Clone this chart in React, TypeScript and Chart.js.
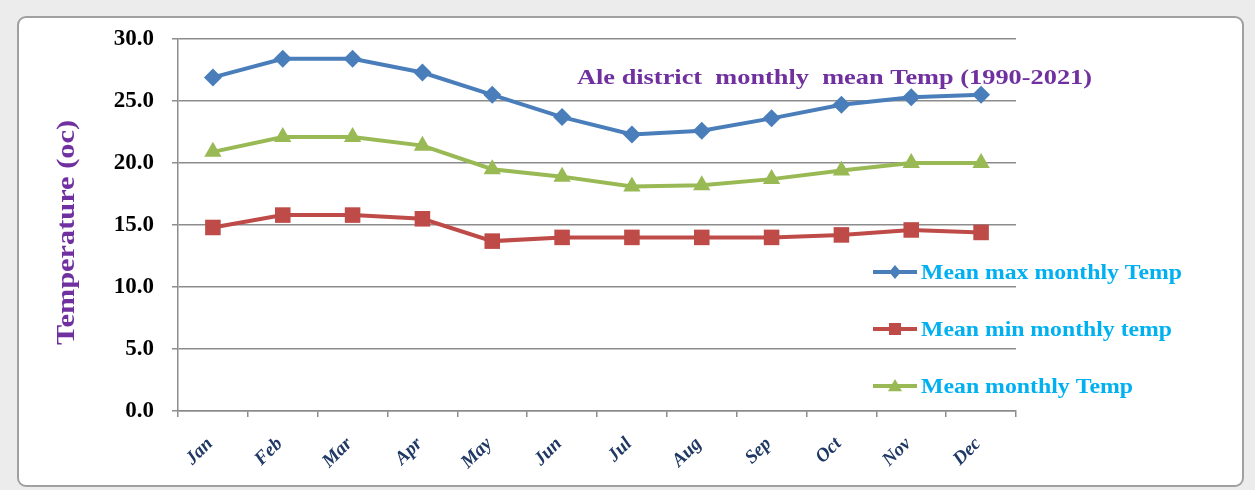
import React, { useEffect, useRef } from "react";
import { Chart, registerables } from "chart.js";

Chart.register(...registerables);

const months = ["Jan", "Feb", "Mar", "Apr", "May", "Jun", "Jul", "Aug", "Sep", "Oct", "Nov", "Dec"];
const maxTemp = [26.9, 28.4, 28.4, 27.3, 25.5, 23.7, 22.3, 22.6, 23.6, 24.7, 25.3, 25.5];
const minTemp = [14.8, 15.8, 15.8, 15.5, 13.7, 14.0, 14.0, 14.0, 14.0, 14.2, 14.6, 14.4];
const meanTemp = [20.9, 22.1, 22.1, 21.4, 19.5, 18.9, 18.1, 18.2, 18.7, 19.4, 20.0, 20.0];
const seriesNames = ["Mean max monthly Temp", "Mean min monthly temp", "Mean monthly Temp"];
const chartTitle = "Ale district  monthly  mean Temp (1990-2021)";
const yTitle = "Temperature (oc)";

const BLUE = "#4A7EBB";
const RED = "#BE4B48";
const GREEN = "#98B954";
const SERIF = '"Liberation Serif", "Times New Roman", serif';

function drawMarker(ctx: CanvasRenderingContext2D, style: string, x: number, y: number, r: number, color: string) {
  ctx.save();
  ctx.fillStyle = color;
  ctx.beginPath();
  if (style === "rectRot") {
    ctx.moveTo(x, y - r);
    ctx.lineTo(x + r * 0.85, y);
    ctx.lineTo(x, y + r);
    ctx.lineTo(x - r * 0.85, y);
  } else if (style === "rect") {
    ctx.rect(x - r, y - r, 2 * r, 2 * r);
  } else {
    ctx.moveTo(x, y - r);
    ctx.lineTo(x + r, y + r * 0.75);
    ctx.lineTo(x - r, y + r * 0.75);
  }
  ctx.closePath();
  ctx.fill();
  ctx.restore();
}

// draws text stretched horizontally to a target width, starting at x (left) baseline y
function fillStretched(ctx: CanvasRenderingContext2D, text: string, x: number, y: number, width: number) {
  const w = ctx.measureText(text).width;
  ctx.save();
  ctx.translate(x, y);
  ctx.scale(width / w, 1);
  ctx.textAlign = "left";
  ctx.fillText(text, 0, 0);
  ctx.restore();
}

const overlayPlugin = {
  id: "overlay",
  afterDraw(chart: any) {
    const ctx: CanvasRenderingContext2D = chart.ctx;
    ctx.save();

    // chart title
    ctx.font = `bold 22px ${SERIF}`;
    ctx.fillStyle = "#7030A0";
    ctx.textBaseline = "alphabetic";
    fillStretched(ctx, chartTitle, 577, 84, 515);

    // y axis title (rotated)
    ctx.save();
    ctx.translate(74, 345);
    ctx.rotate(-Math.PI / 2);
    ctx.font = `bold 26px ${SERIF}`;
    ctx.fillStyle = "#7030A0";
    ctx.textBaseline = "alphabetic";
    fillStretched(ctx, yTitle, 0, 0, 225);
    ctx.restore();

    // x axis labels
    const xScale = chart.scales.x;
    ctx.font = `bold italic 19px ${SERIF}`;
    ctx.fillStyle = "#1F3864";
    months.forEach((m, i) => {
      const xc = xScale.getPixelForValue(i);
      ctx.save();
      ctx.translate(xc - 3, 441);
      ctx.rotate(-Math.PI / 4);
      ctx.textAlign = "right";
      ctx.textBaseline = "middle";
      ctx.fillText(m, 0, 0);
      ctx.restore();
    });

    // legend
    const items = [
      { name: seriesNames[0], color: BLUE, style: "rectRot", y: 272, r: 7, w: 261 },
      { name: seriesNames[1], color: RED, style: "rect", y: 329, r: 6, w: 251 },
      { name: seriesNames[2], color: GREEN, style: "triangle", y: 386, r: 7, w: 212 },
    ];
    items.forEach((it) => {
      ctx.strokeStyle = it.color;
      ctx.lineWidth = 4;
      ctx.beginPath();
      ctx.moveTo(873, it.y);
      ctx.lineTo(917, it.y);
      ctx.stroke();
      drawMarker(ctx, it.style, 895, it.y, it.r, it.color);
      ctx.font = `bold 22px ${SERIF}`;
      ctx.fillStyle = "#00B0F0";
      ctx.textBaseline = "middle";
      fillStretched(ctx, it.name, 921, it.y + 1, it.w);
    });
    ctx.restore();
  },
};

export default function App() {
  const canvasRef = useRef<HTMLCanvasElement | null>(null);

  useEffect(() => {
    if (!canvasRef.current) return;
    const chart = new Chart(canvasRef.current, {
      type: "line",
      data: {
        labels: months,
        datasets: [
          {
            label: seriesNames[0],
            data: maxTemp,
            borderColor: BLUE,
            backgroundColor: BLUE,
            borderWidth: 4,
            pointStyle: "rectRot",
            pointRadius: 9,
            pointBorderWidth: 0,
            tension: 0,
          },
          {
            label: seriesNames[1],
            data: minTemp,
            borderColor: RED,
            backgroundColor: RED,
            borderWidth: 4,
            pointStyle: "rect",
            pointRadius: 11,
            pointBorderWidth: 0,
            tension: 0,
          },
          {
            label: seriesNames[2],
            data: meanTemp,
            borderColor: GREEN,
            backgroundColor: GREEN,
            borderWidth: 4,
            pointStyle: "triangle",
            pointRadius: 10,
            pointBorderWidth: 0,
            tension: 0,
          },
        ],
      },
      options: {
        responsive: false,
        maintainAspectRatio: false,
        animation: false,
        events: [],
        layout: { padding: { left: 30, top: 39, right: 239, bottom: 19 } },
        plugins: {
          legend: { display: false },
          title: { display: false },
          tooltip: { enabled: false },
        },
        scales: {
          x: {
            offset: true,
            afterFit: (s: any) => {
              s.height = 60;
            },
            grid: {
              offset: true,
              drawOnChartArea: false,
              drawTicks: true,
              tickLength: 6,
              color: "#8c8c8c",
              lineWidth: 1.5,
            },
            border: { display: true, color: "#8c8c8c", width: 1.5 },
            ticks: {
              display: false,
              autoSkip: false,
            },
          },
          y: {
            min: 0,
            max: 30,
            afterFit: (s: any) => {
              s.width = 148;
            },
            grid: {
              drawTicks: true,
              tickLength: 6,
              color: "#8c8c8c",
              lineWidth: 1.5,
            },
            border: { display: true, color: "#8c8c8c", width: 1.5 },
            ticks: {
              stepSize: 5,
              padding: 18,
              color: "#000000",
              font: { family: SERIF, size: 23, weight: "bold" },
              callback: (v: any) => Number(v).toFixed(1),
            },
          },
        },
      },
      plugins: [overlayPlugin],
    } as any);
    return () => chart.destroy();
  }, []);

  return (
    <div style={{ position: "absolute", left: 0, top: 0, width: 1255, height: 490, background: "#ececec", overflow: "hidden" }}>
      <div
        style={{
          position: "absolute",
          left: 17,
          top: 16,
          width: 1227,
          height: 471,
          boxSizing: "border-box",
          background: "#ffffff",
          border: "2px solid #a0a0a0",
          borderRadius: 9,
        }}
      />
      <canvas
        ref={canvasRef}
        width={1255}
        height={490}
        style={{ position: "absolute", left: 0, top: 0, width: 1255, height: 490 }}
      />
    </div>
  );
}
